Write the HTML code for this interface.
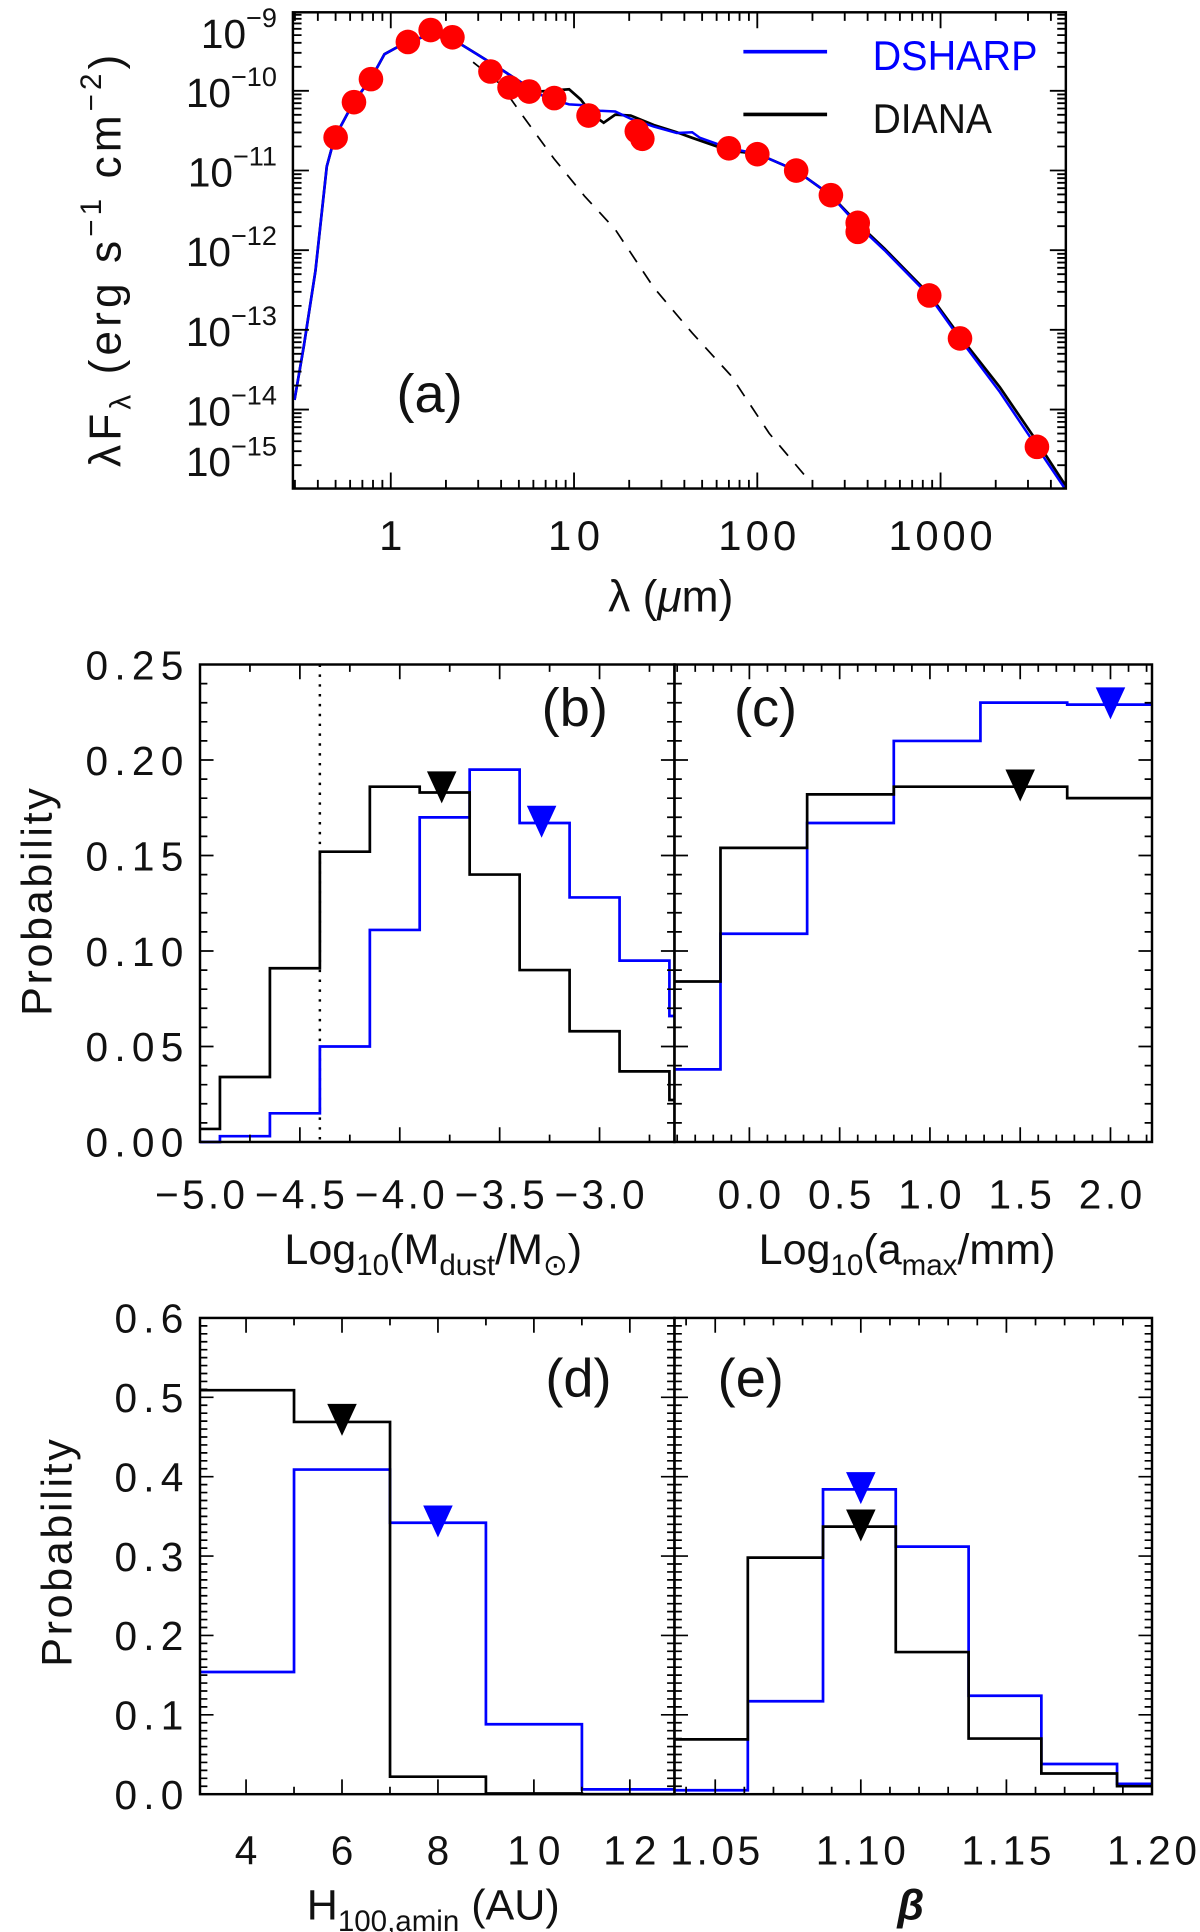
<!DOCTYPE html>
<html><head><meta charset="utf-8"><style>
html,body{margin:0;padding:0;background:#fff;}
svg{display:block;}
text{font-family:"Liberation Sans",sans-serif;fill:#111;}
</style></head><body>
<svg id="fig" width="1200" height="1932" viewBox="0 0 975 1570" preserveAspectRatio="none" xmlns="http://www.w3.org/2000/svg"></svg>
<script>
// ---------- Panel (a) data ----------
const obsLam = [0.50,0.63,0.78,1.24,1.65,2.17,3.5,4.45,5.7,7.8,12.0,22,23.6,70,100,163,252,353,353,867,1277,3357];
const obsFlux = [2.6e-11,7.2e-11,1.4e-10,4.1e-10,5.8e-10,4.7e-10,1.75e-10,1.1e-10,9.8e-11,8.1e-11,4.9e-11,3.1e-11,2.5e-11,1.9e-11,1.6e-11,1.0e-11,4.9e-12,2.2e-12,1.7e-12,2.7e-13,7.8e-14,3.4e-15];
const dsharpLogLam = [-0.525,-0.474,-0.411,-0.349,-0.307,-0.202,-0.109,-0.034,0.092,0.218,0.344,0.470,0.596,0.722,0.848,0.973,1.057,1.141,1.225,1.309,1.435,1.561,1.645,1.687,1.846,2.002,2.212,2.400,2.547,2.694,2.937,3.105,3.324,3.525,3.681];
const dsharpLogF = [-13.88,-13.20,-12.26,-10.95,-10.59,-10.14,-9.85,-9.54,-9.38,-9.30,-9.36,-9.54,-9.72,-9.91,-10.09,-10.17,-10.18,-10.25,-10.26,-10.35,-10.45,-10.53,-10.52,-10.59,-10.72,-10.79,-11.00,-11.31,-11.68,-12.00,-12.57,-13.11,-13.78,-14.47,-15.00];
const dianaLogLam = [-0.525,-0.474,-0.411,-0.349,-0.307,-0.202,-0.109,-0.034,0.092,0.218,0.344,0.470,0.596,0.722,0.806,0.973,1.037,1.100,1.162,1.225,1.309,1.435,1.561,1.645,1.846,2.002,2.212,2.400,2.547,2.694,2.937,3.105,3.324,3.525,3.681];
const dianaLogF = [-13.88,-13.20,-12.26,-10.95,-10.59,-10.14,-9.85,-9.54,-9.38,-9.30,-9.36,-9.54,-9.72,-9.91,-10.01,-9.98,-10.11,-10.30,-10.40,-10.30,-10.31,-10.43,-10.52,-10.59,-10.75,-10.79,-11.00,-11.31,-11.66,-11.98,-12.55,-13.08,-13.72,-14.40,-14.95];
const starLogLam = [0.449,0.596,0.722,0.890,1.057,1.225,1.435,1.645,1.855,2.065,2.275];
const starLogF = [-9.64,-9.91,-10.32,-10.85,-11.32,-11.74,-12.47,-13.04,-13.57,-14.30,-14.87];
const aXTicks = [1,10,100,1000];
const aXTickLabels = ["1","10","100","1000"];
const aYTickExp = [-9,-10,-11,-12,-13,-14,-15];

// ---------- Panel (b) ----------
const bEdges = [-5.0,-4.9,-4.65,-4.4,-4.15,-3.9,-3.65,-3.4,-3.15,-2.9,-2.65,-2.625];
const bDiana = [0.0068,0.034,0.091,0.152,0.186,0.183,0.140,0.090,0.058,0.037,0.022];
const bDsharp = [0.0,0.003,0.015,0.050,0.111,0.170,0.195,0.167,0.128,0.095,0.066];
const bTicks = [-5.0,-4.5,-4.0,-3.5,-3.0];
const bTickLabels = ["\u22125.0","\u22124.5","\u22124.0","\u22123.5","\u22123.0"];
const bMarkDiana = [-3.79,0.185]; const bMarkDsharp = [-3.29,0.167];
const bDotted = -4.4;
// ---------- Panel (c) ----------
const cEdges = [-0.415,-0.16,0.32,0.80,1.28,1.76,2.23];
const cDiana = [0.084,0.154,0.182,0.186,0.186,0.180];
const cDsharp = [0.038,0.109,0.167,0.210,0.230,0.229];
const cTicks = [0,0.5,1.0,1.5,2.0];
const cTickLabels = ["0.0","0.5","1.0","1.5","2.0"];
const cMarkDiana = [1.5,0.186]; const cMarkDsharp = [2.0,0.229];
const pTicks1 = [0,0.05,0.10,0.15,0.20,0.25];
const pTickLabels1 = ["0.00","0.05","0.10","0.15","0.20","0.25"];
// ---------- Panel (d) ----------
const dEdges = [3.04,5,7,9,11,12.93];
const dDiana = [0.509,0.469,0.022,0.001,0.0];
const dDsharp = [0.154,0.409,0.342,0.088,0.006];
const dTicks = [4,6,8,10,12];
const dTickLabels = ["4","6","8","10","12"];
const dMarkDiana = [6,0.47]; const dMarkDsharp = [8,0.342];
// ---------- Panel (e) ----------
const eEdges = [1.036,1.0612,1.087,1.112,1.137,1.162,1.188,1.2];
const eDiana = [0.069,0.298,0.337,0.179,0.070,0.026,0.010];
const eDsharp = [0.005,0.117,0.384,0.312,0.124,0.038,0.013];
const eTicks = [1.05,1.10,1.15,1.20];
const eTickLabels = ["1.05","1.10","1.15","1.20"];
const eMarkDiana = [1.10,0.337]; const eMarkDsharp = [1.10,0.384];
const pTicks2 = [0,0.1,0.2,0.3,0.4,0.5,0.6];
const pTickLabels2 = ["0.0","0.1","0.2","0.3","0.4","0.5","0.6"];

const NS="http://www.w3.org/2000/svg";
const svg=document.getElementById('fig');
function mk(tag,attrs,parent){const e=document.createElementNS(NS,tag);for(const k in attrs)e.setAttribute(k,attrs[k]);(parent||svg).appendChild(e);return e;}
function lbl(s){let n=0;for(const c of s){n+= (c==='.')?9:23.5;}return n;}

// ===== Panel a =====
const A={x0:238,x1:866,y0:10,y1:397};
const axL=v=>317.5+148.9*Math.log10(v);
const axLL=l=>317.5+148.9*l;
const ayL=l=>73.8-64.75*(l+10);
const ga=mk('g',{});


const clipA=mk('clipPath',{id:'clipA'},ga);mk('rect',{x:A.x0,y:A.y0,width:A.x1-A.x0,height:A.y1-A.y0},clipA);
function poly(xs,ys,fx,fy,attrs,parent,name){let d='';for(let i=0;i<xs.length;i++)d+=(i?'L':'M')+fx(xs[i]).toFixed(1)+' '+fy(ys[i]).toFixed(1);const p=mk('path',Object.assign({d:d,fill:'none'},attrs),parent);return p;}
const gaClip=mk('g',{'clip-path':'url(#clipA)'},ga);
poly(starLogLam,starLogF,axLL,ayL,{stroke:'#000','stroke-width':1.4,'stroke-dasharray':'11 9'},gaClip,'stellar-photosphere-dashed');
poly(dianaLogLam,dianaLogF,axLL,ayL,{stroke:'#000','stroke-width':2.2},gaClip,'diana-model-line');
poly(dsharpLogLam,dsharpLogF,axLL,ayL,{stroke:'#0000ff','stroke-width':2},gaClip,'dsharp-model-line');
for(let i=0;i<obsLam.length;i++){const c=mk('circle',{cx:axL(obsLam[i]).toFixed(1),cy:ayL(Math.log10(obsFlux[i])).toFixed(1),r:10,fill:'#ff0000'},gaClip);

}
// frame & ticks
const fa=mk('rect',{x:A.x0,y:A.y0,width:A.x1-A.x0,height:A.y1-A.y0,fill:'none',stroke:'#000','stroke-width':2},ga);

let tk='';
for(let e=-1;e<=3;e++)for(let m=1;m<=9;m++){const x=axL(m*Math.pow(10,e));if(x<A.x0||x>A.x1)continue;const L=m===1?13:7;tk+=`M${x} ${A.y1}v${-L}M${x} ${A.y0}v${L}`;}
for(let e=-16;e<=-9;e++)for(let m=1;m<=9;m++){const y=ayL(e+Math.log10(m));if(y<A.y0||y>A.y1)continue;const L=m===1?13:7;tk+=`M${A.x0} ${y}h${L}M${A.x1} ${y}h${-L}`;}
mk('path',{d:tk,stroke:'#000','stroke-width':1.5,fill:'none'},ga);
aXTicks.forEach((v,i)=>{const t=mk('text',{x:axL(v),y:447,'text-anchor':'middle','font-size':34,textLength:lbl(aXTickLabels[i])*0.9,lengthAdjust:'spacing'},ga);t.textContent=aXTickLabels[i];
});
aYTickExp.forEach(ex=>{let y=ayL(ex);if(ex===-9)y=26;if(ex===-15)y=374;const t=mk('text',{x:225,y:y+13,'text-anchor':'end','font-size':33},ga);
const a=mk('tspan',{},t);a.textContent='10';const b=mk('tspan',{'font-size':22,dy:-17},t);b.textContent='\u2212'+(-ex);
});
{const t=mk('text',{x:545,y:497,'text-anchor':'middle','font-size':36},ga);t.innerHTML='\u03bb (<tspan font-style="italic">\u03bc</tspan>m)';
}
{const t=mk('text',{x:0,y:0,'text-anchor':'middle','font-size':36,transform:'translate(98,212) rotate(-90)',textLength:335,lengthAdjust:'spacing'},ga);
t.innerHTML='\u03bbF<tspan font-size="24" dy="8">\u03bb</tspan><tspan dy="-8"> (erg s</tspan><tspan font-size="24" dy="-16">\u22121</tspan><tspan dy="16"> cm</tspan><tspan font-size="24" dy="-16">\u22122</tspan><tspan dy="16">)</tspan>';
}
{const t=mk('text',{x:349,y:335,'text-anchor':'middle','font-size':44},ga);t.textContent='(a)';}
// legend
{const g=mk('g',{},ga);
const l1=mk('line',{x1:604,x2:672,y1:42,y2:42,stroke:'#0000ff','stroke-width':3},g);
const t1=mk('text',{x:709,y:57,'font-size':34,fill:'#0000ff',style:'fill:#0000ff',textLength:134,lengthAdjust:'spacingAndGlyphs'},g);t1.textContent='DSHARP';
const l2=mk('line',{x1:604,x2:672,y1:93,y2:93,stroke:'#000','stroke-width':3},g);
const t2=mk('text',{x:709,y:108,'font-size':34,textLength:97,lengthAdjust:'spacingAndGlyphs'},g);t2.textContent='DIANA';}

// ===== Histogram panels =====
function histPanel(o){
  const g=mk('g',{});
  
  
  const sx=v=>o.x0+(v-o.d0)/(o.d1-o.d0)*(o.x1-o.x0);
  const sy=v=>o.y1-(v-o.r0)/(o.r1-o.r0)*(o.y1-o.y0);
  if(o.dotted!==undefined){const l=mk('line',{x1:sx(o.dotted),x2:sx(o.dotted),y1:o.y0,y2:o.y1,stroke:'#000','stroke-width':2,'stroke-dasharray':'2 6'},g);}
  function step(edges,vals,color,name){let d='';for(let i=0;i<vals.length;i++){const y=sy(vals[i]).toFixed(1);d+=(i?'L':'M')+sx(edges[i]).toFixed(1)+' '+y+'L'+sx(edges[i+1]).toFixed(1)+' '+y;}
    const p=mk('path',{d:d,fill:'none',stroke:color,'stroke-width':2.2},g);}
  step(o.edges,o.dsharp,'#0000ff','dsharp-histogram');
  step(o.edges,o.diana,'#000','diana-histogram');
  function tri(m,color,name){const x=sx(m[0]),y=sy(m[1]);const p=mk('path',{d:`M${x-12} ${y-14}L${x+12} ${y-14}L${x} ${y+12}Z`,fill:color},g);}
  tri(o.mDsharp,'#0000ff','dsharp-best-fit-marker');
  tri(o.mDiana,'#000','diana-best-fit-marker');
  const f=mk('rect',{x:o.x0,y:o.y0,width:o.x1-o.x0,height:o.y1-o.y0,fill:'none',stroke:'#000','stroke-width':2},g);
  
  let d='';
  for(let v=o.r0;v<=o.r1+1e-9;v+=o.yminor){const y=sy(v);const maj=Math.abs(v/o.ymajor-Math.round(v/o.ymajor))<1e-6;const L=maj?11:6;d+=`M${o.x0} ${y}h${L}M${o.x1} ${y}h${-L}`;}
  const start=Math.ceil(o.d0/o.xminor)*o.xminor;
  for(let v=start;v<=o.d1+1e-9;v+=o.xminor){const x=sx(v);const maj=Math.abs(v/o.xmajor-Math.round(v/o.xmajor))<1e-6;const L=maj?12:6;d+=`M${x} ${o.y1}v${-L}M${x} ${o.y0}v${L}`;}
  mk('path',{d:d,stroke:'#000','stroke-width':1.4,fill:'none'},g);
  o.xt.forEach((v,i)=>{const s=o.xl[i];const t=mk('text',{x:sx(v),y:o.xly,'text-anchor':'middle','font-size':33,textLength:lbl(s)*0.92,lengthAdjust:'spacing'},g);t.textContent=s;
    });
  if(o.yt){o.yt.forEach((v,i)=>{const s=o.yl[i];const t=mk('text',{x:149,y:sy(v)+12,'text-anchor':'end','font-size':33,textLength:lbl(s),lengthAdjust:'spacing'},g);t.textContent=s;
    });
    const t=mk('text',{x:0,y:0,'text-anchor':'middle','font-size':35,transform:`translate(${o.ytx},${o.yty}) rotate(-90)`,textLength:185,lengthAdjust:'spacing'},g);t.textContent='Probability';
    }
  const tt=mk('text',{x:o.titleX,y:o.titleY,'text-anchor':'middle','font-size':35},g);tt.innerHTML=o.title;
  
  const pl=mk('text',{x:o.plx,y:o.ply,'text-anchor':'middle','font-size':44},g);pl.textContent=o.pl;
  
}
histPanel({name:'dust-mass-panel',x0:162.5,x1:548,y0:540,y1:928,d0:-5.0,d1:-2.625,r0:0,r1:0.25,edges:bEdges,diana:bDiana,dsharp:bDsharp,mDiana:bMarkDiana,mDsharp:bMarkDsharp,dotted:bDotted,
  yminor:0.01,ymajor:0.05,xminor:0.25,xmajor:0.5,xt:bTicks,xl:bTickLabels,xly:982,yt:pTicks1,yl:pTickLabels1,ytx:42,yty:733,
  title:'Log<tspan font-size="24" dy="9">10</tspan><tspan dy="-9">(M</tspan><tspan font-size="24" dy="9">dust</tspan><tspan dy="-9">/M</tspan><tspan font-size="24" dy="9">\u2299</tspan><tspan dy="-9">)</tspan>',titleX:352,titleY:1027,pl:'(b)',plx:467,ply:590});
histPanel({name:'amax-panel',x0:548,x1:936,y0:540,y1:928,d0:-0.415,d1:2.23,r0:0,r1:0.25,edges:cEdges,diana:cDiana,dsharp:cDsharp,mDiana:cMarkDiana,mDsharp:cMarkDsharp,
  yminor:0.01,ymajor:0.05,xminor:0.1,xmajor:0.5,xt:cTicks,xl:cTickLabels,xly:982,
  title:'Log<tspan font-size="24" dy="9">10</tspan><tspan dy="-9">(a</tspan><tspan font-size="24" dy="9">max</tspan><tspan dy="-9">/mm)</tspan>',titleX:737,titleY:1027,pl:'(c)',plx:622,ply:590});
histPanel({name:'scale-height-panel',x0:162.5,x1:548,y0:1071,y1:1458,d0:3.04,d1:12.93,r0:0,r1:0.6,edges:dEdges,diana:dDiana,dsharp:dDsharp,mDiana:dMarkDiana,mDsharp:dMarkDsharp,
  yminor:0.01,ymajor:0.1,xminor:1,xmajor:2,xt:dTicks,xl:dTickLabels,xly:1515,yt:pTicks2,yl:pTickLabels2,ytx:58,yty:1262,
  title:'H<tspan font-size="24" dy="9">100,amin</tspan><tspan dy="-9"> (AU)</tspan>',titleX:352,titleY:1560,pl:'(d)',plx:470,ply:1135});
histPanel({name:'flaring-panel',x0:548,x1:936,y0:1071,y1:1458,d0:1.036,d1:1.2,r0:0,r1:0.6,edges:eEdges,diana:eDiana,dsharp:eDsharp,mDiana:eMarkDiana,mDsharp:eMarkDsharp,
  yminor:0.01,ymajor:0.1,xminor:0.01,xmajor:0.05,xt:eTicks,xl:eTickLabels,xly:1515,
  title:'<tspan font-style="italic" font-weight="bold">\u03b2</tspan>',titleX:740,titleY:1560,pl:'(e)',plx:610,ply:1135});
</script>
</body></html>
